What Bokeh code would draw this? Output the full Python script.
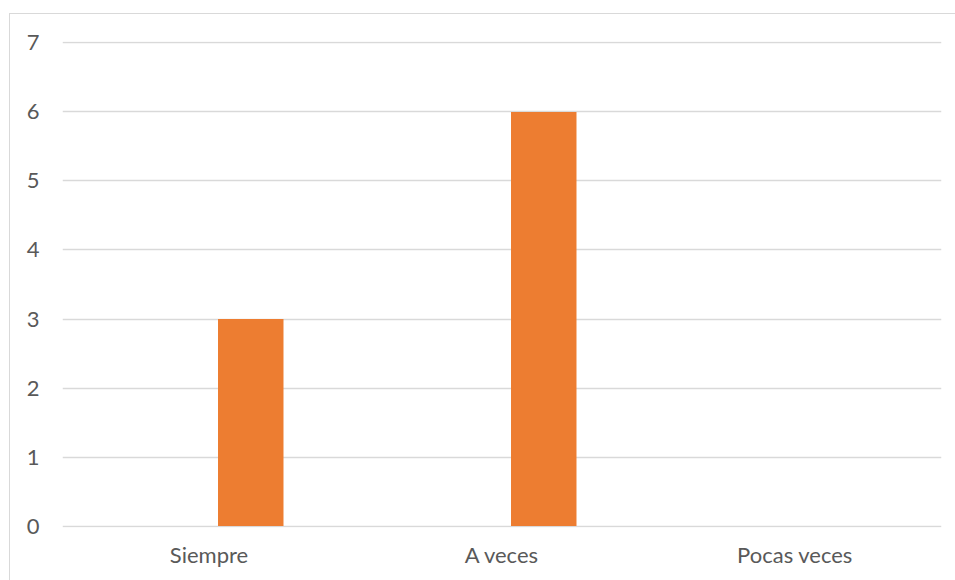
from bokeh.plotting import figure
from bokeh.models import FactorRange, Range1d, ColumnDataSource, FixedTicker
from bokeh.transform import dodge
from bokeh.embed import file_html
from bokeh.resources import INLINE

categories = ["Siempre", "A veces", "Pocas veces"]
values = [3, 6, 0]
y_ticks = [0, 1, 2, 3, 4, 5, 6, 7]

src = ColumnDataSource(data=dict(cat=categories, val=values))

p = figure(
    x_range=FactorRange(*categories),
    y_range=Range1d(-0.02, 7.02),
    width=946, height=567,
    output_backend="svg", toolbar_location=None,
    min_border_left=52, min_border_right=15, min_border_top=27, min_border_bottom=54,
)
p.margin = (13, 0, 0, 9)
p.styles = {"border-left": "1px solid #d9d9d9", "border-top": "1px solid #d9d9d9"}

p.vbar(x=dodge("cat", 0.1425, range=p.x_range), top="val", width=0.2235,
       source=src, fill_color="#ED7D31", line_color=None)

p.outline_line_color = None
p.xgrid.grid_line_color = None
p.ygrid.grid_line_color = "#D9D9D9"
p.ygrid.grid_line_width = 1.3
p.yaxis.ticker = FixedTicker(ticks=y_ticks)

for ax in (p.xaxis[0], p.yaxis[0]):
    ax.axis_line_color = None
    ax.major_tick_line_color = None
    ax.minor_tick_line_color = None
    ax.major_label_text_font = "Lato"
    ax.major_label_text_font_size = "22px"
    ax.major_label_text_color = "#595959"

p.yaxis.major_label_standoff = 17
p.xaxis.major_label_standoff = 7

open("out.html", "w").write(file_html(p, INLINE))
